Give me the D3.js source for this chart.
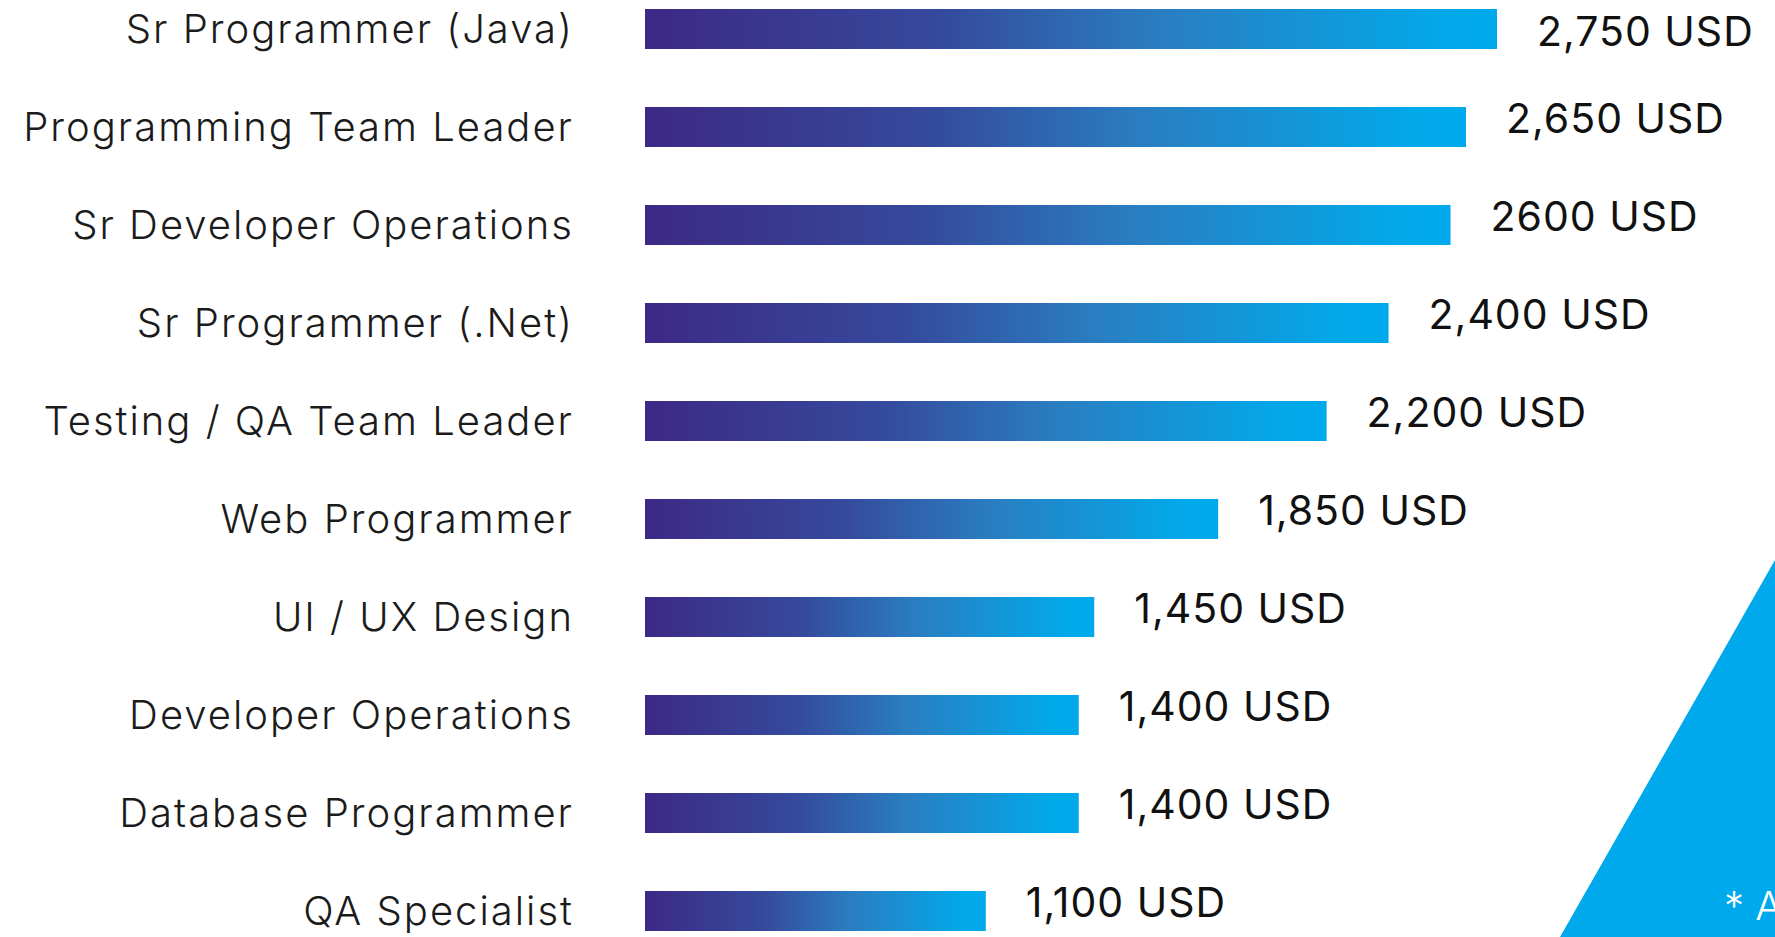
<!DOCTYPE html>
<html>
<head>
<meta charset="utf-8">
<script src="https://cdn.jsdelivr.net/npm/d3@7"></script>
<style>
  body { margin: 0; background: #fff; }
  svg { display: block; }
  .role { font-family: 'Inter', sans-serif; font-weight: 300; font-size: 40px; letter-spacing: 2px; fill: #1b1b1b; }
  .amount { font-family: 'Inter', sans-serif; font-weight: 400; font-size: 41px; letter-spacing: 1px; fill: #111; }
</style>
</head>
<body>
<svg id="chart" width="1775" height="937"></svg>
<script>
// Salary per role, top to bottom as in the picture
var roles = [
  'Sr Programmer (Java)',
  'Programming Team Leader',
  'Sr Developer Operations',
  'Sr Programmer (.Net)',
  'Testing / QA Team Leader',
  'Web Programmer',
  'UI / UX Design',
  'Developer Operations',
  'Database Programmer',
  'QA Specialist'
];
var salaries = [2750, 2650, 2600, 2400, 2200, 1850, 1450, 1400, 1400, 1100];
var salaryLabels = ['2,750 USD', '2,650 USD', '2600 USD', '2,400 USD', '2,200 USD',
  '1,850 USD', '1,450 USD', '1,400 USD', '1,400 USD', '1,100 USD'];
var footnote = '* A';

var svg = d3.select('#chart');
var barLeft = 645;
var barH = 40;

var x = d3.scaleLinear()
  .domain([0, d3.max(salaries)])
  .range([barLeft, 1497]);

var y = d3.scalePoint()
  .domain(roles)
  .range([29, 911]);

// purple -> blue, each bar gets the whole ramp
var grad = svg.append('defs')
  .append('linearGradient')
  .attr('id', 'barGrad')
  .attr('x1', '0%').attr('x2', '100%')
  .attr('y1', '0%').attr('y2', '0%');

grad.selectAll('stop')
  .data([
    { o: '0%', c: '#3d2985' },
    { o: '35%', c: '#354a9c' },
    { o: '60%', c: '#2a7dc0' },
    { o: '94%', c: '#02a9ea' },
    { o: '100%', c: '#00a9eb' }
  ])
  .enter()
  .append('stop')
  .attr('offset', d => d.o)
  .attr('stop-color', d => d.c);

// blue corner triangle
svg.append('polygon')
  .attr('points', '1775,560 1775,937 1560,937')
  .attr('fill', '#00a9eb');

svg.append('text')
  .attr('x', 1724)
  .attr('y', 920)
  .attr('fill', '#fff')
  .style('font-family', "'Inter', sans-serif")
  .style('font-weight', 300)
  .style('font-size', '40px')
  .text(footnote);

var rows = svg.selectAll('g.row')
  .data(roles)
  .enter()
  .append('g')
  .attr('class', 'row');

rows.append('rect')
  .attr('x', barLeft)
  .attr('y', d => y(d) - barH / 2)
  .attr('width', (d, i) => x(salaries[i]) - barLeft)
  .attr('height', barH)
  .attr('fill', 'url(#barGrad)');

rows.append('text')
  .attr('class', 'role')
  .attr('x', 574)
  .attr('y', d => y(d))
  .attr('dy', '0.35em')
  .attr('text-anchor', 'end')
  .text(d => d);

// values sit a bit above the bar centre, but keep the top one inside the page
rows.append('text')
  .attr('class', 'amount')
  .attr('x', (d, i) => x(salaries[i]) + 40)
  .attr('y', d => Math.max(y(d) - 8, 32))
  .attr('dy', '0.35em')
  .text((d, i) => salaryLabels[i]);
</script>
</body>
</html>
